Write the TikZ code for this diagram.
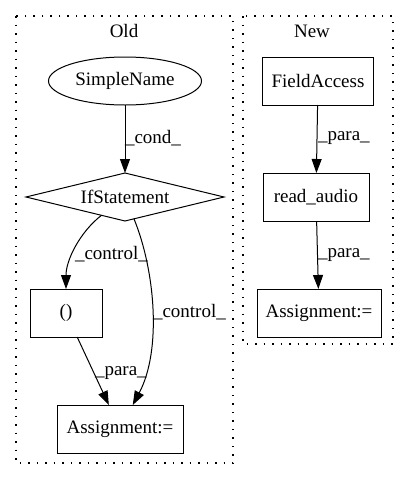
\documentclass[tikz,border=0pt]{standalone}
\usepackage{fontspec}
\setmainfont{Liberation Serif}
\usetikzlibrary{shapes.geometric,arrows.meta}

\begin{document}
\begin{tikzpicture}[x=1pt, y=-1pt, outer sep = 0pt, font=\fontsize{19}{22}\selectfont, >={Triangle[length=14pt,width=10pt]}]

\tikzstyle{box}=[draw, rectangle, line width=1pt, minimum height=48pt, inner sep=0pt]
\tikzstyle{cluster}=[draw, line width=1.1pt, dash pattern=on 1.5pt off 7pt]
\tikzstyle{lbl}=[anchor=west, inner sep=0pt]
\tikzstyle{edge}=[->, line width=1pt]

\useasboundingbox (0,0) rectangle (408,480);
\draw[cluster] (16,16) rectangle (233,463);
\draw[cluster] (243,16) rectangle (393,344);
\node (oldtitle) at (124,31) {Old}; \node (newtitle) at (312,31) {New};

\node[draw, ellipse, line width=1pt, minimum width=153pt, minimum height=48pt, inner sep=0pt] (old1) at (125,81) {SimpleName};
\node[draw, diamond, line width=1pt, aspect=4, minimum width=198pt, minimum height=48pt, inner sep=0pt] (old2) at (125,197) {IfStatement};
\node[box, minimum width=72pt] (old3) at (66,313) {()};
\node[box, minimum width=126pt] (old4) at (120,429) {Assignment:=};

\node[box, minimum width=111pt] (new1) at (318,81) {FieldAccess};
\node[box, minimum width=106pt] (new2) at (316,197) {read\_audio};
\node[box, minimum width=124pt] (new3) at (319,313) {Assignment:=};

\draw[edge] (old1) -- (old2);
\draw[edge] (old2) .. controls (80,232) and (66,260) .. (old3);
\draw[edge] (old2) .. controls (155,270) and (162,350) .. (old4);
\draw[edge] (old3) -- (old4);
\node[lbl] (lbl0) at (125,138) {\_cond\_};
\node[lbl] (lbl1) at (75,254) {\_control\_};
\node[lbl] (lbl2) at (153,312) {\_control\_};
\node[lbl] (lbl3) at (95,373) {\_para\_};

\draw[edge] (new1) -- (new2);
\draw[edge] (new2) -- (new3);
\node[lbl] (lbl4) at (318,138) {\_para\_};
\node[lbl] (lbl5) at (318,255) {\_para\_};

\end{tikzpicture}
\end{document}
